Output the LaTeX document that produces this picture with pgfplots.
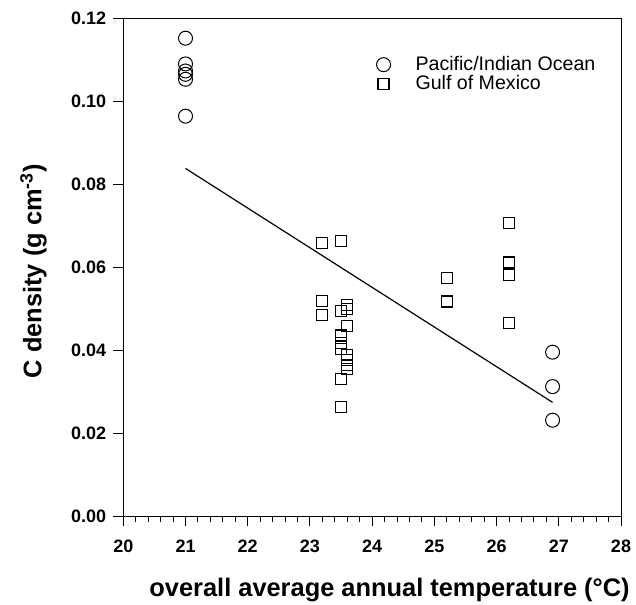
\documentclass[border=0pt]{standalone}
\usepackage{pgfplots}
\pgfplotsset{compat=1.18}
\usepackage{fontspec}
\setmainfont{Liberation Sans}
\begin{document}
\begin{tikzpicture}
  \begin{axis}[
    name=ax,
    scale only axis,
    width=248.85pt, height=248.85pt,
    xmin=20, xmax=28, ymin=0, ymax=0.12,
    xtick={20,...,28},
    ytick={0,0.02,...,0.12},
    minor x tick num=4,
    xtick pos=bottom, ytick pos=left,
    tick align=outside,
    major tick length=5pt, minor tick length=3pt,
    every tick/.style={black, line width=0.5pt},
    axis line style={line width=0.5pt},
    /pgf/number format/assume math mode=true,
    tick label style={font=\fontsize{9}{10}\selectfont\bfseries},
    xticklabel style={yshift=-3.5pt},
    yticklabel style={/pgf/number format/fixed, /pgf/number format/fixed zerofill, /pgf/number format/precision=2},
    scaled y ticks=false,
    xlabel={overall average annual temperature (°C)},
    ylabel={C density (g cm\textsuperscript{-3})},
    label style={font=\fontsize{12.7}{14}\selectfont\bfseries},
    xlabel style={at={(axis description cs:0.535,-0.162)}, anchor=base, inner sep=0pt},
    ylabel style={at={(axis description cs:-0.153,0.492)}, anchor=south, inner sep=0pt},
    legend style={draw=none, fill=none, at={(0.496,0.941)}, anchor=north west,
      font=\fontsize{9.8}{10}\selectfont, row sep=-3pt, column sep=10.5pt},
    legend cell align=left,
    clip=false,
  ]
    % Pacific/Indian Ocean
    \addplot[only marks, mark=o, mark size=3.5pt, line width=0.5pt] coordinates {
      (21.0, 0.1152) (21.0, 0.1090) (21.0, 0.1073) (21.0, 0.1065) (21.0, 0.1053) (21.0, 0.0964)
      (26.9, 0.0395) (26.9, 0.0312) (26.9, 0.0231)
    };
    % Gulf of Mexico
    \addplot[only marks, mark=square, mark size=2.75pt, line width=0.6pt] coordinates {
      (23.2, 0.0659) (23.2, 0.0518) (23.2, 0.0485)
      (23.5, 0.0663) (23.5, 0.0495) (23.5, 0.0435) (23.5, 0.0418) (23.5, 0.0402)
      (23.5, 0.0331) (23.5, 0.0263)
      (23.6, 0.0508) (23.6, 0.0500) (23.6, 0.0458) (23.6, 0.0388) (23.6, 0.0376)
      (23.6, 0.0364) (23.6, 0.0354)
      (25.2, 0.0573) (25.2, 0.0517)
      (26.2, 0.0706) (26.2, 0.0611) (26.2, 0.0581) (26.2, 0.0465)
    };
    % regression line
    \addplot[black, line width=0.6pt, forget plot] coordinates {
      (21.0, 0.0838) (26.9, 0.0274)
    };
    \legend{Pacific/Indian Ocean, Gulf of Mexico}
  \end{axis}
  \pgfresetboundingbox
  \path[use as bounding box] ([shift={(-61.65pt,-44pt)}]ax.south west)
    rectangle ([shift={(7.5pt,9.15pt)}]ax.north east);
\end{tikzpicture}
\end{document}
